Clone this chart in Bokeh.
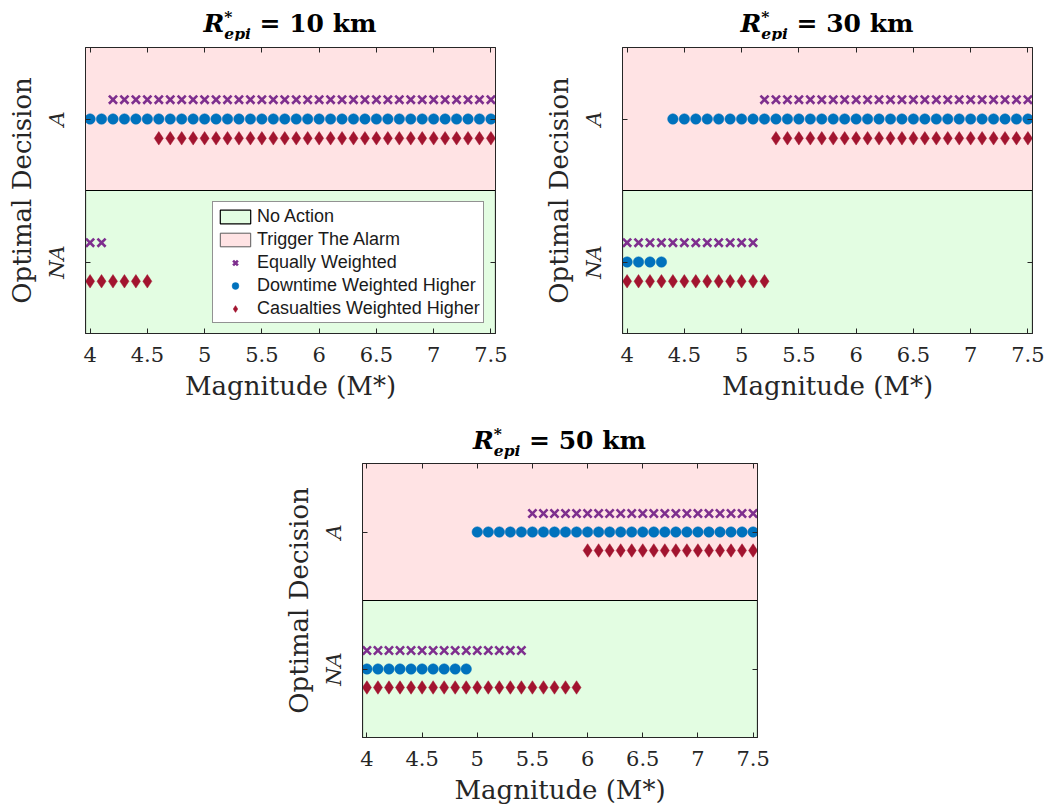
from bokeh.plotting import figure
from bokeh.models import (Div, Spacer, FixedTicker, NumeralTickFormatter, LinearAxis,
                          Range1d, Legend, LegendItem, ColumnDataSource)
from bokeh.layouts import row, column
from bokeh.transform import dodge
from bokeh.embed import file_html
from bokeh.resources import INLINE

# ---------------- data ----------------
magnitude = [4.0, 4.1, 4.2, 4.3, 4.4, 4.5, 4.6, 4.7, 4.8, 4.9,
             5.0, 5.1, 5.2, 5.3, 5.4, 5.5, 5.6, 5.7, 5.8, 5.9,
             6.0, 6.1, 6.2, 6.3, 6.4, 6.5, 6.6, 6.7, 6.8, 6.9,
             7.0, 7.1, 7.2, 7.3, 7.4, 7.5]
x_ticks = [4, 4.5, 5, 5.5, 6, 6.5, 7, 7.5]
decision_ticks = [0, 1]
decision_labels = {0: "NA", 1: "A"}
epicentral_distances = [10, 30, 50]

region_names = ["No Action", "Trigger The Alarm"]
region_low = [-0.5, 0.5]
region_high = [0.5, 1.5]

series_names = ["Equally Weighted", "Downtime Weighted Higher", "Casualties Weighted Higher"]

# decisions (0 = NA, 1 = A) per magnitude
r10_equal = [0, 0, 1, 1, 1, 1, 1, 1, 1, 1, 1, 1, 1, 1, 1, 1, 1, 1, 1, 1, 1, 1, 1, 1, 1, 1, 1, 1, 1, 1, 1, 1, 1, 1, 1, 1]
r10_downtime = [1, 1, 1, 1, 1, 1, 1, 1, 1, 1, 1, 1, 1, 1, 1, 1, 1, 1, 1, 1, 1, 1, 1, 1, 1, 1, 1, 1, 1, 1, 1, 1, 1, 1, 1, 1]
r10_casualty = [0, 0, 0, 0, 0, 0, 1, 1, 1, 1, 1, 1, 1, 1, 1, 1, 1, 1, 1, 1, 1, 1, 1, 1, 1, 1, 1, 1, 1, 1, 1, 1, 1, 1, 1, 1]

r30_equal = [0, 0, 0, 0, 0, 0, 0, 0, 0, 0, 0, 0, 1, 1, 1, 1, 1, 1, 1, 1, 1, 1, 1, 1, 1, 1, 1, 1, 1, 1, 1, 1, 1, 1, 1, 1]
r30_downtime = [0, 0, 0, 0, 1, 1, 1, 1, 1, 1, 1, 1, 1, 1, 1, 1, 1, 1, 1, 1, 1, 1, 1, 1, 1, 1, 1, 1, 1, 1, 1, 1, 1, 1, 1, 1]
r30_casualty = [0, 0, 0, 0, 0, 0, 0, 0, 0, 0, 0, 0, 0, 1, 1, 1, 1, 1, 1, 1, 1, 1, 1, 1, 1, 1, 1, 1, 1, 1, 1, 1, 1, 1, 1, 1]

r50_equal = [0, 0, 0, 0, 0, 0, 0, 0, 0, 0, 0, 0, 0, 0, 0, 1, 1, 1, 1, 1, 1, 1, 1, 1, 1, 1, 1, 1, 1, 1, 1, 1, 1, 1, 1, 1]
r50_downtime = [0, 0, 0, 0, 0, 0, 0, 0, 0, 0, 1, 1, 1, 1, 1, 1, 1, 1, 1, 1, 1, 1, 1, 1, 1, 1, 1, 1, 1, 1, 1, 1, 1, 1, 1, 1]
r50_casualty = [0, 0, 0, 0, 0, 0, 0, 0, 0, 0, 0, 0, 0, 0, 0, 0, 0, 0, 0, 0, 1, 1, 1, 1, 1, 1, 1, 1, 1, 1, 1, 1, 1, 1, 1, 1]

# ---------------- style ----------------
AX = "#262626"
GREEN = "#E3FDE2"
PINK = "#FFE3E4"
C_EQ, C_DT, C_CAS = "#7E2F8E", "#0072BD", "#A2142F"
OFFSET = 0.135
SERIF = "DejaVu Serif"


def style_axis(ax, labels=True):
    ax.axis_line_color = AX
    ax.major_tick_line_color = AX
    ax.major_tick_in = 5
    ax.major_tick_out = 0
    ax.minor_tick_in = 0
    ax.minor_tick_out = 0
    ax.minor_tick_line_color = None
    if labels:
        ax.major_label_text_font = SERIF
        ax.major_label_text_font_size = "21px"
        ax.major_label_text_color = AX
        ax.axis_label_text_font = SERIF
        ax.axis_label_text_font_size = "26px"
        ax.axis_label_text_font_style = "normal"
        ax.axis_label_text_color = AX
    else:
        ax.major_label_text_font_size = "1px"
        ax.major_label_text_color = None
        ax.major_label_standoff = 0


def make_panel(dec_eq, dec_dt, dec_cas, fw, fh, bl, br, bt, bb, with_legend=False):
    p = figure(frame_width=fw, frame_height=fh,
               x_range=Range1d(3.96, 7.54), y_range=Range1d(-0.5, 1.5),
               output_backend="svg", toolbar_location=None,
               min_border_left=bl, min_border_right=br,
               min_border_top=bt, min_border_bottom=bb,
               x_axis_label="Magnitude (M*)", y_axis_label="Optimal Decision")
    p.xgrid.visible = False
    p.ygrid.visible = False
    p.outline_line_color = AX

    xr = p.x_range
    pink = p.quad(left=xr.start, right=xr.end, bottom="low", top="high",
                  source=ColumnDataSource(dict(low=[region_low[1]], high=[region_high[1]])),
                  fill_color=PINK, line_color="#5a5a5a", line_width=1)
    green = p.quad(left=xr.start, right=xr.end, bottom="low", top="high",
                   source=ColumnDataSource(dict(low=[region_low[0]], high=[region_high[0]])),
                   fill_color=GREEN, line_color="black", line_width=1.2)

    src = ColumnDataSource(dict(m=magnitude, eq=dec_eq, dt=dec_dt, cas=dec_cas))
    r_eq = p.scatter(x="m", y=dodge("eq", OFFSET), source=src, marker="x", size=11.5,
                     line_color=C_EQ, line_width=2.6)
    r_dt = p.scatter(x="m", y="dt", source=src, marker="circle", size=10.5,
                     fill_color=C_DT, line_color=C_DT, line_width=0.5)
    r_cas = p.scatter(x="m", y=dodge("cas", -OFFSET), source=src, marker="diamond", size=13.5,
                      fill_color=C_CAS, line_color=C_CAS, line_width=0.5)

    xa = p.xaxis[0]
    xa.ticker = FixedTicker(ticks=x_ticks)
    xa.formatter = NumeralTickFormatter(format="0.[0]")
    style_axis(xa)
    xa.major_label_standoff = 13
    xa.axis_label_standoff = 6

    ya = p.yaxis[0]
    ya.ticker = FixedTicker(ticks=decision_ticks)
    ya.major_label_overrides = decision_labels
    ya.major_label_orientation = "vertical"
    style_axis(ya)
    ya.major_label_text_font_style = "italic"
    ya.major_label_standoff = 17
    ya.axis_label_standoff = 5

    top = LinearAxis(ticker=FixedTicker(ticks=x_ticks))
    style_axis(top, labels=False)
    p.add_layout(top, "above")
    right = LinearAxis(ticker=FixedTicker(ticks=decision_ticks))
    style_axis(right, labels=False)
    p.add_layout(right, "right")

    if with_legend:
        items = [LegendItem(label=region_names[0], renderers=[green]),
                 LegendItem(label=region_names[1], renderers=[pink]),
                 LegendItem(label=series_names[0], renderers=[r_eq]),
                 LegendItem(label=series_names[1], renderers=[r_dt]),
                 LegendItem(label=series_names[2], renderers=[r_cas])]
        leg = Legend(items=items, location=(127, 10), margin=0, padding=3,
                     spacing=1, glyph_width=38, glyph_height=17, label_height=22,
                     label_standoff=3, label_text_font="Liberation Sans",
                     label_text_font_size="18px", label_text_color="#1a1a1a",
                     border_line_color=AX, border_line_width=1,
                     background_fill_color="white", background_fill_alpha=1)
        p.add_layout(leg)
    return p


def title_div(dist, width, height, pad_top):
    html = (
        f'<div style="width:{width}px; font-family:\'{SERIF}\'; font-weight:bold; font-size:25px; color:#000;'
        f' text-align:center; white-space:nowrap; line-height:25px; padding-top:{pad_top}px;">'
        '<i>R</i><span style="display:inline-block; vertical-align:-0.5em; font-size:0.62em;'
        ' line-height:1.12; text-align:left;"><span style="display:block;">*</span>'
        '<span style="display:block;"><i>epi</i></span></span>'
        f'&nbsp;= {dist} km</div>'
    )
    return Div(text=html, width=width, height=height, margin=0)


p1 = make_panel(r10_equal, r10_downtime, r10_casualty, 410, 286, 85, 44, 7, 70, with_legend=True)
p2 = make_panel(r30_equal, r30_downtime, r30_casualty, 410, 286, 83, 14, 7, 70)
p3 = make_panel(r50_equal, r50_downtime, r50_casualty, 395, 274, 83, 20, 4, 64)

row1 = row(Spacer(width=85, height=40, margin=0), title_div(epicentral_distances[0], 410, 40, 8),
           Spacer(width=127, height=40, margin=0), title_div(epicentral_distances[1], 410, 40, 8))
row2 = row(p1, p2)
row3 = row(Spacer(width=362, height=56, margin=0), title_div(epicentral_distances[2], 395, 56, 22))
row4 = row(Spacer(width=279, height=10, margin=0), p3)

layout = column(row1, row2, row3, row4)

open("out.html", "w").write(file_html(layout, INLINE))
